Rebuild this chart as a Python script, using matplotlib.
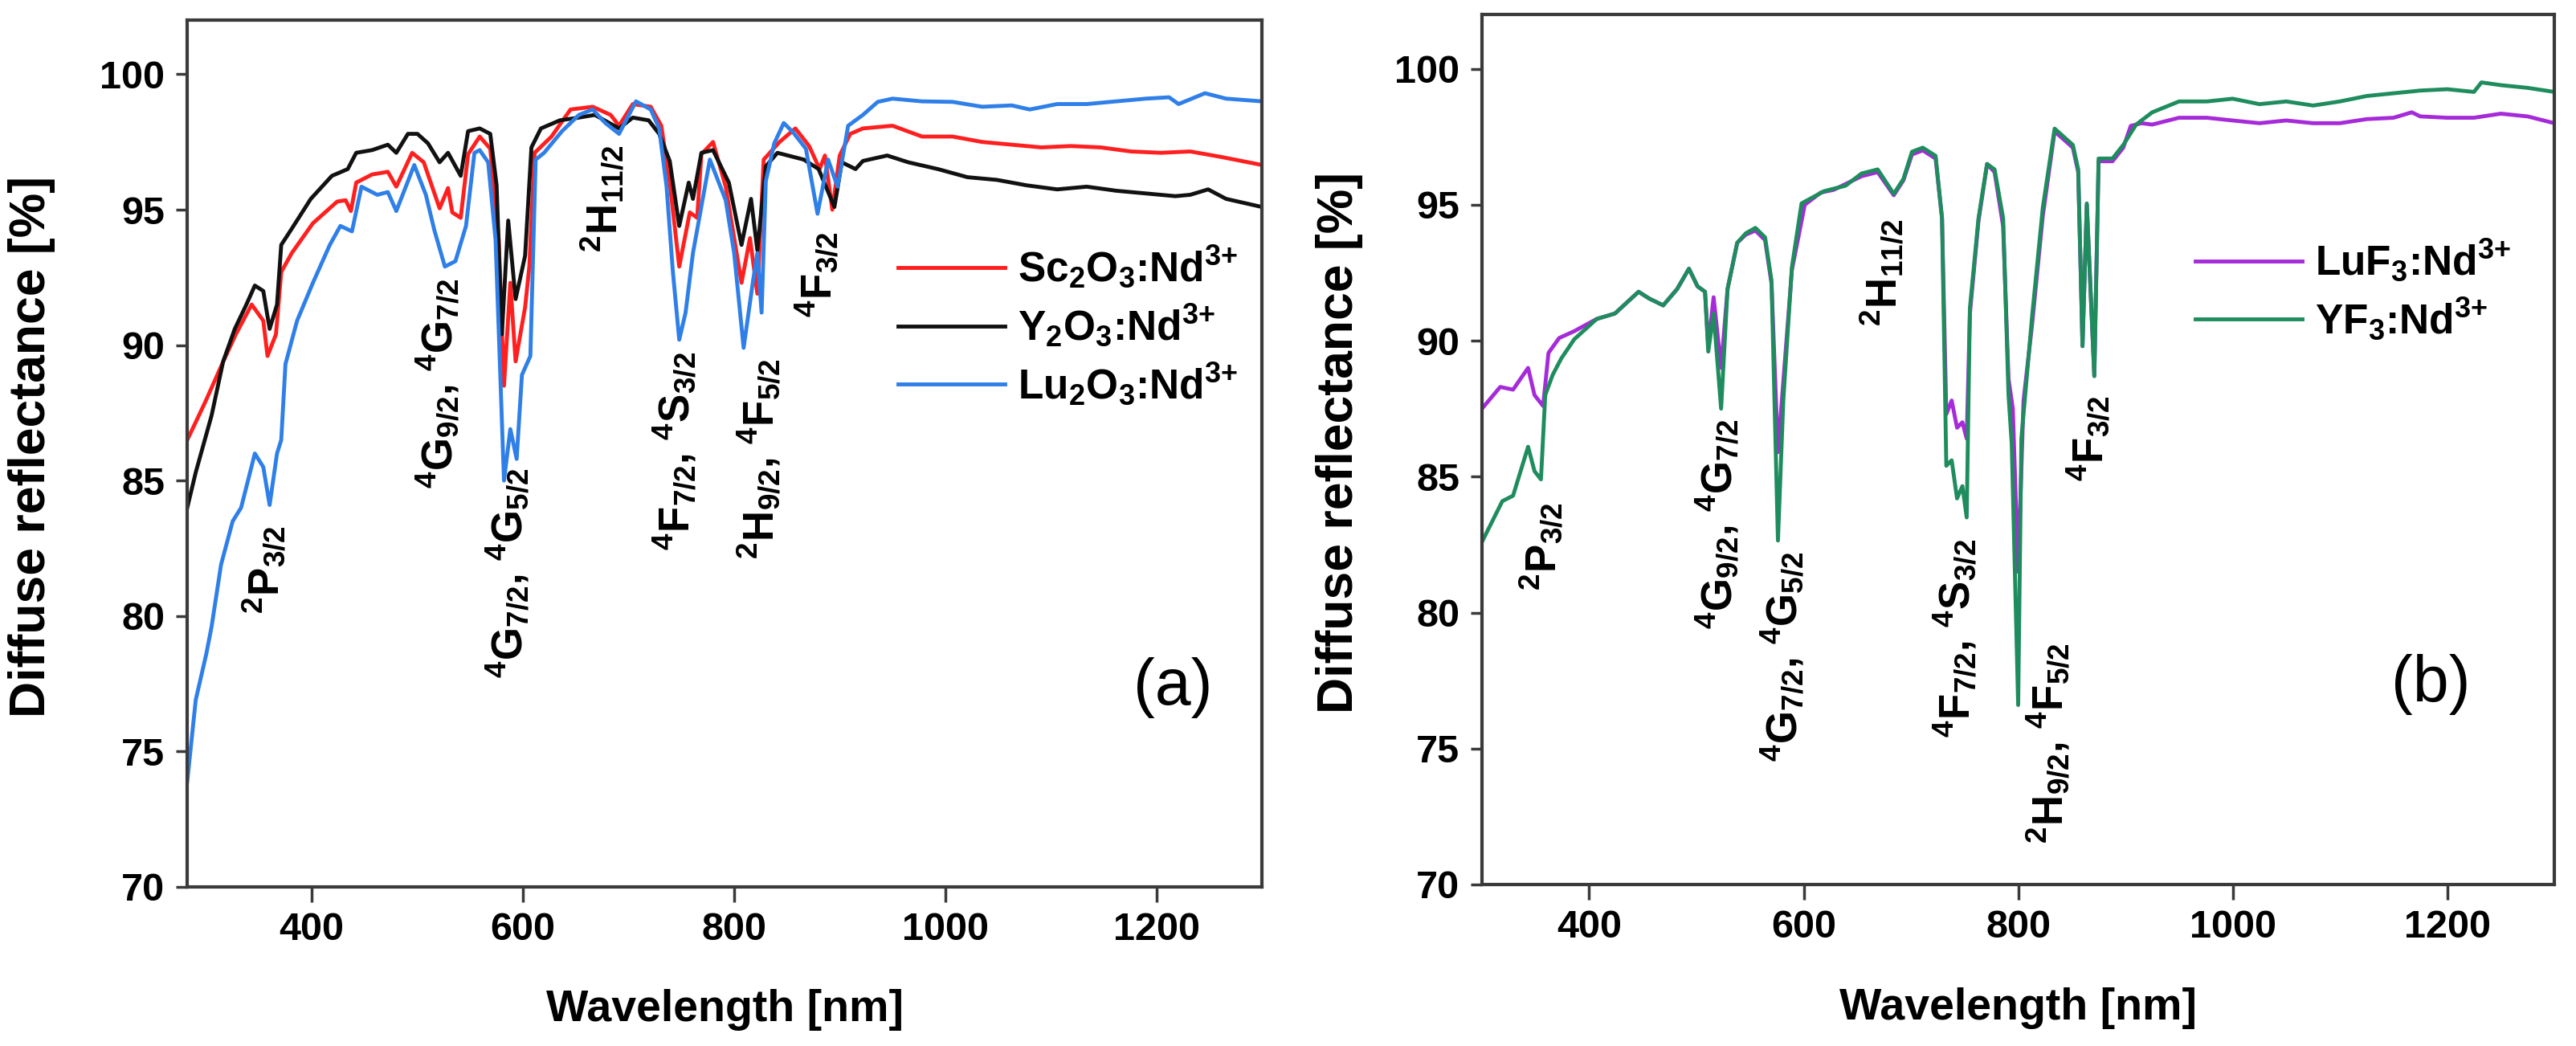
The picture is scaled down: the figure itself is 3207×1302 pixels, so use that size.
import matplotlib
matplotlib.use("Agg")
import matplotlib.pyplot as plt

plt.rcParams['font.family'] = 'Liberation Sans'
plt.rcParams['mathtext.fontset'] = 'custom'
plt.rcParams['mathtext.rm'] = 'Liberation Sans:bold'
plt.rcParams['mathtext.it'] = 'Liberation Sans:bold'
plt.rcParams['mathtext.bf'] = 'Liberation Sans:bold'
plt.rcParams['mathtext.default'] = 'rm'

# (wavelength nm, reflectance %)
sc2o3 = [(282, 86.5), (299, 87.9), (315, 89.3), (328, 90.4), (343, 91.5), (354, 90.9), (358, 89.6),
         (366, 90.4), (371, 92.7), (381, 93.4), (401, 94.5), (424, 95.3), (432, 95.35), (437, 94.95),
         (442, 96.0), (457, 96.3), (472, 96.4), (480, 95.85), (495, 97.1), (506, 96.75), (521, 95.05),
         (529, 95.8), (533, 94.9), (541, 94.7), (548, 97.05), (559, 97.7), (569, 97.25), (577, 93.9),
         (582, 88.5), (588, 92.3), (593, 89.4), (602, 91.4), (606, 92.9), (611, 97.1), (627, 97.7),
         (645, 98.7), (666, 98.8), (683, 98.5), (691, 98.1), (704, 98.9), (721, 98.8), (731, 98.1),
         (739, 96.0), (748, 92.9), (758, 94.9), (765, 94.7), (769, 97.05), (780, 97.5), (792, 95.85),
         (807, 92.3), (815, 93.95), (822, 91.9), (828, 96.85), (843, 97.5), (858, 98.0), (871, 97.35),
         (881, 96.5), (886, 97.0), (893, 95.0), (900, 97.0), (910, 97.8), (922, 98.0), (950, 98.1),
         (978, 97.7), (1007, 97.7), (1035, 97.5), (1063, 97.4), (1091, 97.3), (1119, 97.35),
         (1147, 97.3), (1176, 97.15), (1204, 97.1), (1232, 97.15), (1261, 96.95), (1300, 96.65)]

y2o3 = [(282, 84.0), (290, 85.3), (305, 87.4), (316, 89.4), (327, 90.6), (338, 91.5), (346, 92.2),
        (354, 92.0), (360, 90.6), (367, 91.5), (371, 93.7), (381, 94.3), (399, 95.4), (419, 96.25),
        (434, 96.5), (442, 97.1), (457, 97.2), (472, 97.4), (480, 97.1), (491, 97.8), (500, 97.8),
        (510, 97.45), (521, 96.75), (529, 97.1), (541, 96.25), (548, 97.9), (559, 98.0), (569, 97.8),
        (575, 95.9), (580, 90.4), (586, 94.6), (593, 91.7), (602, 93.3), (608, 97.3), (617, 98.0),
        (635, 98.3), (653, 98.4), (668, 98.5), (691, 98.0), (704, 98.4), (719, 98.3), (729, 97.8),
        (739, 96.8), (748, 94.4), (757, 96.0), (761, 95.4), (769, 97.1), (780, 97.2), (795, 96.0),
        (807, 93.7), (816, 95.4), (822, 93.5), (830, 96.6), (841, 97.1), (851, 97.0), (866, 96.85),
        (880, 96.5), (895, 95.1), (902, 96.75), (915, 96.5), (922, 96.8), (945, 97.0), (965, 96.75),
        (993, 96.5), (1021, 96.2), (1049, 96.1), (1077, 95.9), (1106, 95.75), (1134, 95.85),
        (1162, 95.7), (1190, 95.6), (1218, 95.5), (1232, 95.55), (1249, 95.75), (1266, 95.4), (1300, 95.1)]

lu2o3 = [(282, 73.9), (290, 76.9), (300, 78.6), (305, 79.6), (314, 81.9), (325, 83.5), (333, 84.0),
         (346, 86.0), (354, 85.5), (360, 84.1), (367, 86.0), (371, 86.5), (375, 89.3), (386, 90.9),
         (401, 92.3), (417, 93.7), (427, 94.4), (438, 94.2), (447, 95.85), (462, 95.55), (472, 95.65),
         (480, 94.95), (497, 96.65), (508, 95.55), (516, 94.25), (526, 92.9), (536, 93.1), (546, 94.4),
         (554, 97.1), (559, 97.2), (567, 96.75), (574, 93.9), (582, 85.0), (588, 86.9), (594, 85.8),
         (599, 88.9), (607, 89.6), (612, 96.85), (620, 97.1), (637, 97.9), (653, 98.5), (666, 98.7),
         (678, 98.2), (691, 97.8), (707, 99.0), (721, 98.7), (729, 98.0), (736, 95.85), (742, 92.7),
         (748, 90.2), (754, 91.2), (761, 93.4), (777, 96.85), (792, 95.35), (800, 93.4), (809, 89.9),
         (818, 92.4), (822, 93.4), (826, 91.2), (830, 96.05), (838, 97.45), (847, 98.2), (856, 97.85),
         (868, 97.25), (879, 94.85), (889, 96.85), (898, 95.85), (908, 98.1), (922, 98.5), (936, 98.98),
         (950, 99.1), (978, 99.0), (1007, 98.98), (1035, 98.8), (1063, 98.85), (1080, 98.7),
         (1106, 98.9), (1134, 98.9), (1162, 99.0), (1190, 99.1), (1212, 99.15), (1221, 98.9),
         (1246, 99.3), (1266, 99.1), (1300, 99.0)]

luf3 = [(300, 87.5), (317, 88.3), (329, 88.2), (343, 89.0), (349, 88.0), (357, 87.6), (362, 89.55),
        (372, 90.1), (386, 90.35), (407, 90.8), (424, 91.0), (446, 91.8), (456, 91.55), (469, 91.3),
        (482, 91.9), (493, 92.65), (501, 92.0), (508, 91.8), (511, 89.8), (516, 91.6), (523, 89.0),
        (529, 91.9), (538, 93.6), (546, 93.9), (555, 94.05), (564, 93.7), (570, 92.1), (576, 85.9),
        (581, 88.5), (589, 92.6), (601, 95.0), (616, 95.45), (628, 95.55), (641, 95.8), (654, 96.05),
        (669, 96.2), (684, 95.35), (693, 95.9), (701, 96.85), (711, 97.0), (723, 96.7), (729, 94.5),
        (733, 87.3), (738, 87.8), (743, 86.8), (748, 87.0), (752, 86.4), (755, 91.0), (763, 94.4),
        (771, 96.5), (778, 96.2), (786, 94.2), (791, 88.6), (795, 87.5), (800, 81.5), (805, 87.8),
        (813, 90.6), (823, 94.6), (834, 97.7), (851, 97.1), (856, 96.2), (860, 89.8), (864, 95.0),
        (871, 88.7), (875, 96.6), (888, 96.6), (898, 97.1), (905, 97.9), (915, 98.0), (925, 97.95),
        (950, 98.2), (976, 98.2), (1000, 98.1), (1025, 98.0), (1050, 98.1), (1075, 98.0), (1100, 98.0),
        (1125, 98.15), (1150, 98.2), (1167, 98.4), (1175, 98.25), (1200, 98.2), (1225, 98.2),
        (1250, 98.35), (1275, 98.25), (1300, 98.0)]

yf3 = [(300, 82.6), (319, 84.1), (329, 84.3), (343, 86.1), (349, 85.2), (355, 84.9), (359, 88.0),
       (366, 88.75), (374, 89.35), (386, 90.05), (407, 90.8), (424, 91.0), (446, 91.8), (456, 91.55),
       (469, 91.3), (482, 91.9), (493, 92.65), (501, 92.0), (508, 91.8), (511, 89.6), (516, 91.0),
       (523, 87.5), (529, 91.9), (538, 93.6), (546, 93.95), (555, 94.15), (564, 93.8), (570, 92.2),
       (576, 82.65), (581, 87.8), (589, 92.7), (598, 95.05), (619, 95.5), (639, 95.7), (654, 96.15),
       (669, 96.3), (684, 95.4), (693, 95.95), (701, 96.95), (711, 97.1), (723, 96.8), (729, 94.5),
       (733, 85.4), (738, 85.6), (743, 84.2), (748, 84.65), (752, 83.5), (755, 91.2), (763, 94.5),
       (771, 96.5), (778, 96.3), (786, 94.5), (791, 88.0), (794, 86.2), (800, 76.6), (803, 86.4),
       (813, 90.9), (823, 94.9), (834, 97.8), (851, 97.2), (856, 96.3), (860, 89.8), (864, 95.05),
       (871, 88.7), (875, 96.7), (888, 96.7), (898, 97.2), (910, 97.95), (925, 98.4), (950, 98.8),
       (976, 98.8), (1000, 98.9), (1025, 98.7), (1050, 98.8), (1075, 98.65), (1100, 98.8),
       (1125, 99.0), (1150, 99.1), (1175, 99.2), (1200, 99.25), (1225, 99.15), (1232, 99.5),
       (1250, 99.4), (1275, 99.3), (1300, 99.15)]

# transition labels: (text, wavelength, reflectance) for text centres
labels_a = [('$^2$P$_{3/2}$', 355, 81.7),
            ('$^4$G$_{9/2}$, $^4$G$_{7/2}$', 520, 88.6),
            ('$^4$G$_{7/2}$, $^4$G$_{5/2}$', 586, 81.6),
            ('$^2$H$_{11/2}$', 675, 95.4),
            ('$^4$F$_{7/2}$, $^4$S$_{3/2}$', 744, 86.1),
            ('$^2$H$_{9/2}$, $^4$F$_{5/2}$', 823, 85.8),
            ('$^4$F$_{3/2}$', 879, 92.6)]
labels_b = [('$^2$P$_{3/2}$', 355, 82.45),
            ('$^4$G$_{9/2}$, $^4$G$_{7/2}$', 520, 83.25),
            ('$^4$G$_{7/2}$, $^4$G$_{5/2}$', 581, 78.4),
            ('$^2$H$_{11/2}$', 673, 92.5),
            ('$^4$F$_{7/2}$, $^4$S$_{3/2}$', 742, 79.05),
            ('$^2$H$_{9/2}$, $^4$F$_{5/2}$', 828, 75.2),
            ('$^4$F$_{3/2}$', 866, 86.4)]

series_a = [(sc2o3, '#ff1f1f', 'Sc$_2$O$_3$:Nd$^{3{+}}$'),
            (y2o3, '#111111', 'Y$_2$O$_3$:Nd$^{3{+}}$'),
            (lu2o3, '#2f7fe8', 'Lu$_2$O$_3$:Nd$^{3{+}}$')]
series_b = [(luf3, '#a62bd8', 'LuF$_3$:Nd$^{3{+}}$'),
            (yf3, '#1f8c5e', 'YF$_3$:Nd$^{3{+}}$')]

fig = plt.figure(figsize=(32.07, 13.02), dpi=100)
ax1 = fig.add_axes([0.0727, 0.1521, 0.4172, 0.8287])
ax2 = fig.add_axes([0.5753, 0.1544, 0.4163, 0.8318])


def style(ax, series, labels, xlim, tag, tag_x, leg_xy, ylab_x):
    for pts, col, name in series:
        wl, r = zip(*pts)
        ax.plot(wl, r, color=col, lw=3.5, label=name)
    for txt, x, y in labels:
        ax.text(x, y, txt, rotation=90, ha='center', va='center',
                fontsize=38, fontweight='bold')
    ax.set_xlim(*xlim)
    ax.set_ylim(70, 102)
    ax.set_xticks([400, 600, 800, 1000, 1200])
    ax.set_yticks([70, 75, 80, 85, 90, 95, 100])
    for s in ax.spines.values():
        s.set_linewidth(3)
        s.set_color('#3a3a3a')
    ax.tick_params(axis='x', direction='out', length=14, width=2.5, pad=8,
                   labelsize=35, color='#3a3a3a', top=False)
    ax.tick_params(axis='y', direction='out', length=10, width=2.5, pad=10,
                   labelsize=35, color='#3a3a3a', right=False)
    for lab in ax.get_xticklabels() + ax.get_yticklabels():
        lab.set_fontweight('bold')
    ax.set_xlabel('Wavelength [nm]', fontsize=40, fontweight='bold')
    ax.xaxis.set_label_coords(0.5, -0.118)
    ax.set_ylabel('Diffuse reflectance [%]', fontsize=45, fontweight='bold')
    ax.yaxis.set_label_coords(ylab_x, 0.508)
    ax.text(tag_x, 0.23, tag, transform=ax.transAxes, fontsize=58,
            ha='center', va='center')
    ax.legend(loc='center left', bbox_to_anchor=leg_xy, frameon=False,
              prop={'size': 37, 'weight': 'bold'}, handlelength=2.6,
              handletextpad=0.3, labelspacing=0.3, borderpad=0, borderaxespad=0)


style(ax1, series_a, labels_a, (282, 1300), '(a)', 0.917, (0.661, 0.647), -0.123)
style(ax2, series_b, labels_b, (300, 1300), '(b)', 0.885, (0.665, 0.683), -0.111)

fig.savefig('out.png', dpi=100)
